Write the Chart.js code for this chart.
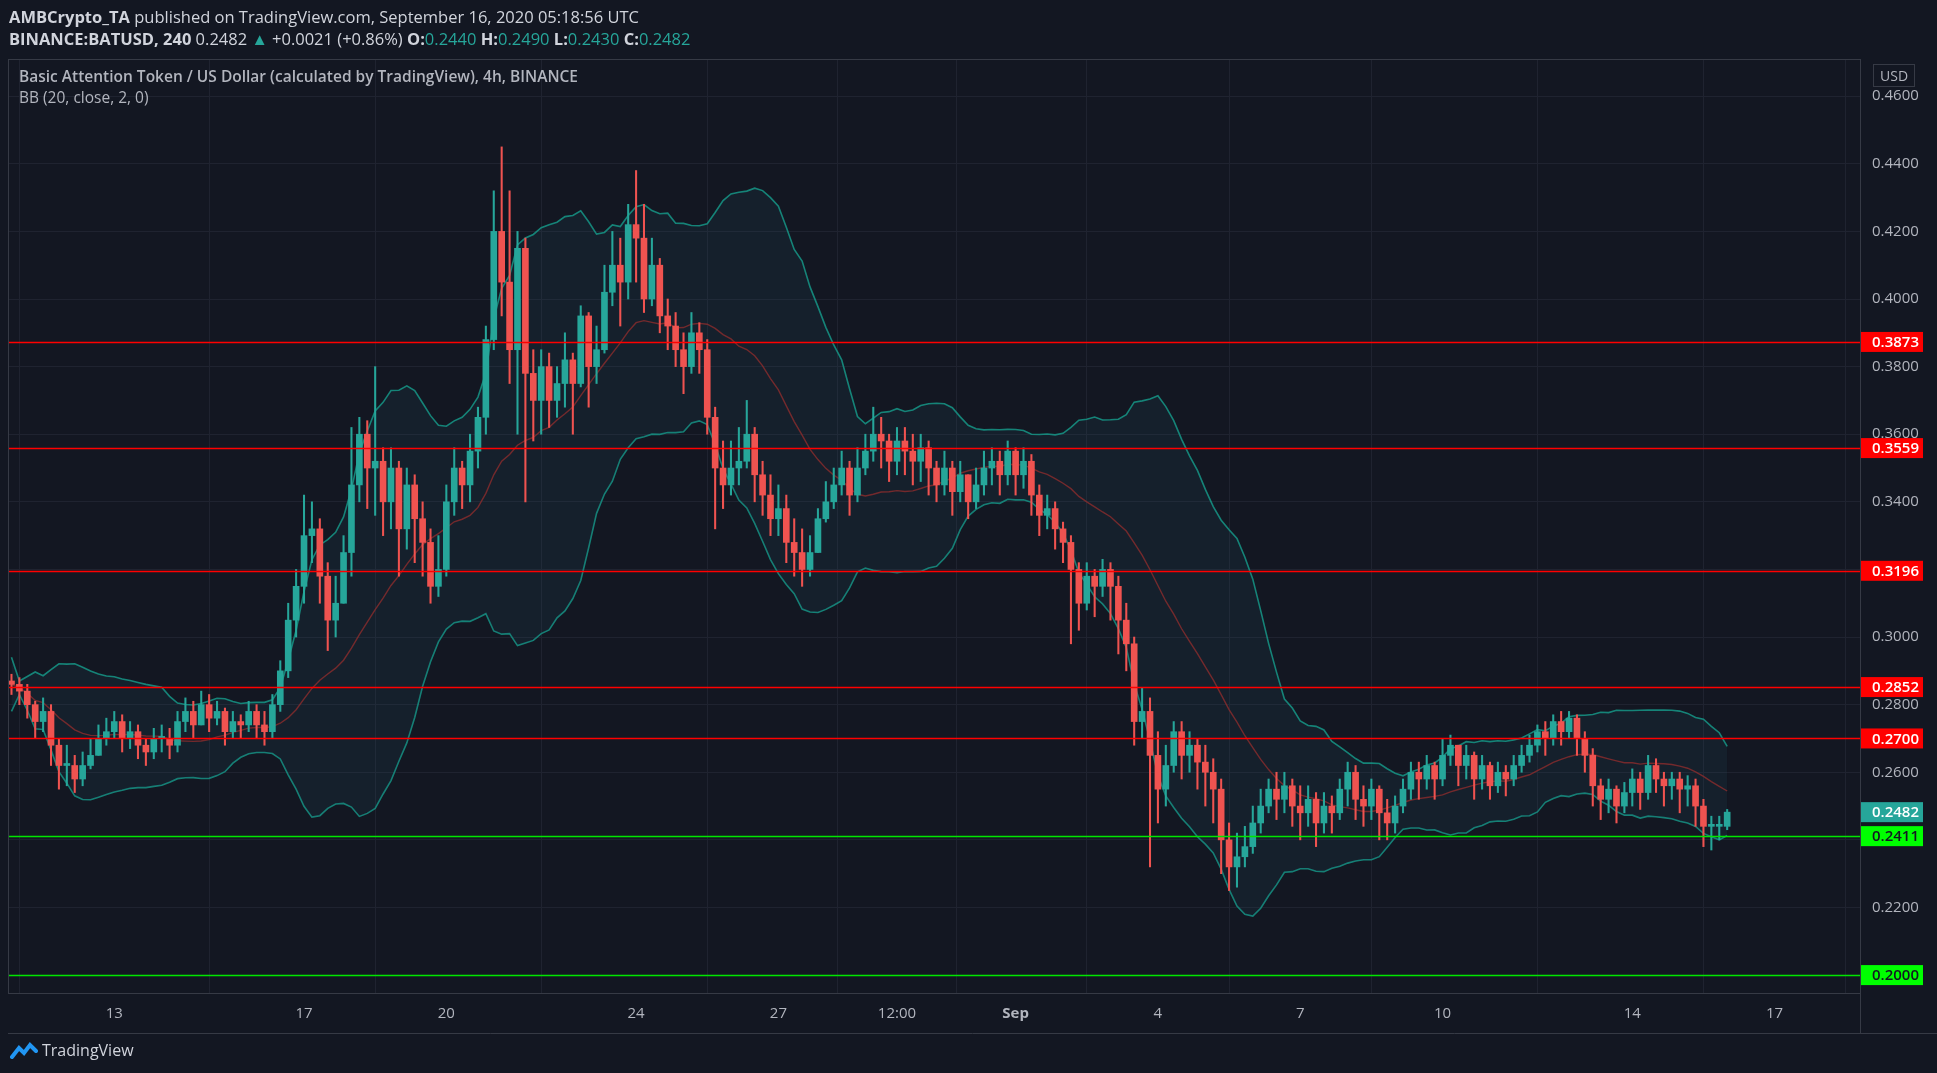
<!DOCTYPE html>
<html>
<head>
<meta charset="utf-8">
<script src="https://cdn.jsdelivr.net/npm/chart.js@4.4.0/dist/chart.umd.min.js"></script>
<style>
  html, body { margin: 0; padding: 0; background: #131722; overflow: hidden; }
  body { width: 1937px; height: 1073px; position: relative; font-family: "Open Sans", sans-serif; color: #d1d4dc; }
  #wrap { position: absolute; left: 0; top: 0; width: 1937px; height: 1073px; }
  .t { position: absolute; white-space: nowrap; }
  .up { color: #26a69a; }
  b { font-weight: 700; }
</style>
</head>
<body>
<div id="wrap"><canvas id="grafik" width="1937" height="1073"></canvas></div>
<div class="t" style="left:9px;top:5px;font-size:16.5px;"><b>AMBCrypto_TA</b> published on TradingView.com, September 16, 2020 05:18:56 UTC</div>
<div class="t" style="left:9px;top:27px;font-size:16.5px;"><b>BINANCE:BATUSD, 240</b> 0.2482 <span class="up">▲</span> +0.0021 (+0.86%) <b>O:</b><span class="up">0.2440</span> <b>H:</b><span class="up">0.2490</span> <b>L:</b><span class="up">0.2430</span> <b>C:</b><span class="up">0.2482</span></div>
<div class="t" style="left:19px;top:65px;font-size:15.5px;color:#b2b5be;font-weight:600;">Basic Attention Token / US Dollar (calculated by TradingView), 4h, BINANCE</div>
<div class="t" style="left:19px;top:86px;font-size:15.5px;color:#b2b5be;">BB (20, close, 2, 0)</div>
<div class="t" style="left:1873px;top:64px;font-size:14px;color:#b2b5be;border:1px solid #363a45;padding:1px 6px;">USD</div>
<div class="t" style="left:10px;top:1039px;font-size:16px;color:#d1d4dc;display:flex;align-items:center;">
  <svg width="28" height="20" viewBox="0 0 28 20"><path d="M2 17 L9 8 L14 13 L20 5 L26 11" stroke="#2196f3" stroke-width="4" fill="none" stroke-linecap="round"/></svg>
  <span style="margin-left:4px;">TradingView</span>
</div>
<script>
// 4 saatlik mumlar: 10 Ağu 20:00'dan 16 Eyl 00:00'a
const kapanis = [
  0.286,
  0.284,0.280,0.275,0.278,0.268,0.262,
  0.262,0.258,0.262,0.265,0.270,0.272,
  0.275,0.270,0.272,0.268,0.266,0.270,
  0.270,0.268,0.275,0.278,0.274,0.280,
  0.276,0.278,0.272,0.275,0.274,0.278,
  0.274,0.272,0.280,0.290,0.305,0.315,
  0.330,0.332,0.318,0.305,0.310,0.325,
  0.345,0.360,0.350,0.352,0.340,0.350,
  0.332,0.345,0.335,0.328,0.315,0.320,
  0.340,0.350,0.345,0.355,0.365,0.388,
  0.420,0.405,0.385,0.415,0.378,0.370,
  0.380,0.370,0.375,0.382,0.375,0.395,
  0.380,0.385,0.402,0.410,0.405,0.422,
  0.418,0.400,0.410,0.395,0.392,0.385,
  0.380,0.390,0.385,0.365,0.350,0.345,
  0.350,0.352,0.360,0.348,0.342,0.335,
  0.338,0.328,0.325,0.320,0.325,0.335,
  0.340,0.345,0.350,0.342,0.350,0.355,
  0.360,0.358,0.352,0.358,0.355,0.352,
  0.356,0.350,0.345,0.350,0.343,0.348,
  0.340,0.345,0.350,0.352,0.348,0.355,
  0.348,0.352,0.342,0.336,0.338,0.332,
  0.328,0.320,0.310,0.318,0.315,0.320,
  0.315,0.305,0.298,0.275,0.278,0.265,
  0.255,0.262,0.272,0.265,0.268,0.263,
  0.260,0.255,0.240,0.232,0.235,0.238,
  0.245,0.250,0.255,0.252,0.256,0.250,
  0.248,0.252,0.245,0.250,0.248,0.255,
  0.260,0.252,0.250,0.255,0.248,0.245,
  0.250,0.255,0.260,0.258,0.262,0.258,
  0.265,0.268,0.262,0.265,0.258,0.262,
  0.256,0.260,0.258,0.262,0.265,0.268,
  0.272,0.270,0.275,0.272,0.276,0.270,
  0.265,0.256,0.252,0.255,0.250,0.254,
  0.258,0.254,0.262,0.258,0.256,0.258,
  0.255,0.256,0.250,0.244,0.244,0.2440,
  0.2482
];
const yuksek = [
  0.289,
  0.288,0.286,0.281,0.282,0.280,0.270,
  0.268,0.265,0.266,0.270,0.274,0.276,
  0.278,0.277,0.275,0.274,0.270,0.273,
  0.274,0.273,0.278,0.282,0.281,0.284,
  0.283,0.281,0.279,0.278,0.277,0.281,
  0.280,0.278,0.283,0.293,0.310,0.320,
  0.342,0.340,0.335,0.322,0.318,0.330,
  0.362,0.365,0.364,0.380,0.356,0.356,
  0.352,0.350,0.348,0.340,0.332,0.330,
  0.345,0.356,0.352,0.360,0.368,0.392,
  0.432,0.445,0.432,0.420,0.418,0.385,
  0.385,0.384,0.380,0.390,0.384,0.398,
  0.396,0.392,0.410,0.420,0.418,0.428,
  0.438,0.428,0.418,0.412,0.400,0.396,
  0.390,0.396,0.393,0.388,0.368,0.358,
  0.358,0.362,0.370,0.362,0.352,0.348,
  0.345,0.342,0.335,0.332,0.330,0.338,
  0.346,0.350,0.355,0.352,0.356,0.360,
  0.368,0.365,0.360,0.362,0.362,0.360,
  0.360,0.358,0.352,0.355,0.352,0.352,
  0.348,0.350,0.355,0.356,0.355,0.358,
  0.356,0.356,0.354,0.345,0.342,0.340,
  0.334,0.330,0.322,0.322,0.320,0.323,
  0.322,0.318,0.310,0.300,0.285,0.282,
  0.272,0.268,0.275,0.275,0.272,0.270,
  0.268,0.264,0.258,0.245,0.242,0.244,
  0.250,0.255,0.258,0.260,0.260,0.258,
  0.256,0.256,0.254,0.254,0.253,0.258,
  0.263,0.262,0.256,0.258,0.256,0.252,
  0.253,0.258,0.263,0.263,0.265,0.263,
  0.270,0.271,0.268,0.268,0.266,0.265,
  0.263,0.263,0.262,0.265,0.268,0.271,
  0.274,0.275,0.277,0.278,0.278,0.277,
  0.272,0.267,0.258,0.258,0.256,0.257,
  0.261,0.260,0.265,0.264,0.260,0.260,
  0.260,0.259,0.258,0.252,0.247,0.247,
  0.249
];
const dusuk = [
  0.283,
  0.280,0.276,0.270,0.272,0.262,0.255,
  0.256,0.254,0.256,0.261,0.266,0.268,
  0.270,0.266,0.267,0.264,0.262,0.264,
  0.266,0.264,0.266,0.272,0.270,0.274,
  0.272,0.274,0.268,0.270,0.270,0.272,
  0.270,0.268,0.270,0.278,0.288,0.300,
  0.310,0.322,0.310,0.296,0.300,0.310,
  0.318,0.340,0.338,0.336,0.330,0.332,
  0.318,0.326,0.322,0.318,0.310,0.312,
  0.318,0.336,0.338,0.340,0.350,0.360,
  0.385,0.395,0.375,0.360,0.340,0.358,
  0.360,0.362,0.365,0.368,0.360,0.374,
  0.368,0.375,0.384,0.398,0.392,0.400,
  0.405,0.396,0.398,0.390,0.385,0.380,
  0.372,0.378,0.378,0.360,0.332,0.338,
  0.342,0.345,0.350,0.340,0.336,0.330,
  0.330,0.322,0.318,0.315,0.318,0.325,
  0.334,0.338,0.342,0.336,0.340,0.348,
  0.352,0.350,0.346,0.348,0.348,0.345,
  0.346,0.342,0.340,0.342,0.336,0.340,
  0.335,0.338,0.342,0.345,0.342,0.345,
  0.342,0.344,0.336,0.330,0.332,0.326,
  0.322,0.298,0.302,0.308,0.306,0.312,
  0.305,0.295,0.290,0.268,0.270,0.232,
  0.245,0.250,0.260,0.258,0.260,0.255,
  0.250,0.245,0.230,0.225,0.226,0.232,
  0.236,0.242,0.248,0.246,0.248,0.244,
  0.240,0.244,0.238,0.242,0.242,0.246,
  0.250,0.246,0.244,0.246,0.240,0.240,
  0.242,0.248,0.252,0.252,0.255,0.252,
  0.256,0.262,0.256,0.258,0.252,0.255,
  0.252,0.254,0.253,0.256,0.260,0.263,
  0.266,0.265,0.268,0.268,0.270,0.265,
  0.260,0.250,0.246,0.248,0.245,0.248,
  0.250,0.249,0.252,0.254,0.250,0.252,
  0.248,0.250,0.244,0.238,0.237,0.240,
  0.243
];
const ilkAcilis = 0.287;

// Yatay destek / direnç seviyeleri
const kirmiziSeviyeler = [0.3873, 0.3559, 0.3196, 0.2852, 0.2700];
const yesilSeviyeler = [0.2411, 0.2000];
const sonFiyat = 0.2482;

// Eksen etiketleri (gün: 1 Ağu = 0)
const xTikGunleri = [12, 16, 19, 23, 26, 28.5, 31, 34, 37, 40, 44, 47];
const xTikEtiketleri = ["13", "17", "20", "24", "27", "12:00", "Sep", "4", "7", "10", "14", "17"];
const yTikleri = [0.20, 0.22, 0.24, 0.26, 0.28, 0.30, 0.32, 0.34, 0.36, 0.38, 0.40, 0.42, 0.44, 0.46];

const ilkGun = 9 + 20 / 24;
const UP = "#26a69a", DOWN = "#ef5350";

const mumlar = kapanis.map((c, i) => {
  const o = i === 0 ? ilkAcilis : kapanis[i - 1];
  return {
    x: ilkGun + i / 6, o, c,
    h: Math.max(yuksek[i], o, c), l: Math.min(dusuk[i], o, c)
  };
});

// Bollinger (20, 2)
const bbOrta = [], bbUst = [], bbAlt = [];
kapanis.forEach((_, i) => {
  const pencere = kapanis.slice(Math.max(0, i - 19), i + 1);
  const ort = pencere.reduce((a, b) => a + b, 0) / pencere.length;
  const sd = Math.sqrt(pencere.reduce((a, b) => a + (b - ort) ** 2, 0) / pencere.length) || 0.004;
  const x = mumlar[i].x;
  bbOrta.push({ x, y: ort });
  bbUst.push({ x, y: ort + 2 * sd });
  bbAlt.push({ x, y: ort - 2 * sd });
});

const seviyeEklentisi = {
  id: "seviyeler",
  afterDatasetsDraw(chart) {
    const { ctx, chartArea, scales } = chart;
    const y = scales.y;
    const cizgi = (v, renk) => {
      const py = Math.round(y.getPixelForValue(v)) + 0.5;
      ctx.save();
      ctx.strokeStyle = renk; ctx.lineWidth = 1.3;
      ctx.beginPath(); ctx.moveTo(chartArea.left, py); ctx.lineTo(chartArea.right, py); ctx.stroke();
      ctx.restore();
    };
    kirmiziSeviyeler.forEach(v => cizgi(v, "#ff0000"));
    yesilSeviyeler.forEach(v => cizgi(v, "#00e600"));
  },
  afterDraw(chart) {
    const { ctx, chartArea, scales } = chart;
    const y = scales.y;
    const etiket = (v, zemin, yazi) => {
      const py = y.getPixelForValue(v);
      ctx.save();
      ctx.fillStyle = zemin;
      ctx.fillRect(chartArea.right + 1, py - 10, 62, 20);
      ctx.fillStyle = yazi;
      ctx.font = "600 15px 'Open Sans'";
      ctx.textBaseline = "middle";
      ctx.fillText(v.toFixed(4), chartArea.right + 12, py + 1);
      ctx.restore();
    };
    kirmiziSeviyeler.forEach(v => etiket(v, "#ff0000", "#ffffff"));
    etiket(sonFiyat, UP, "#ffffff");
    etiket(yesilSeviyeler[0], "#00ff00", "#131722");
    etiket(yesilSeviyeler[1], "#00ff00", "#131722");
    // çerçeve
    ctx.save();
    ctx.strokeStyle = "#363a45"; ctx.lineWidth = 1;
    ctx.strokeRect(chartArea.left + 0.5, chartArea.top + 0.5, chartArea.right - chartArea.left, chartArea.bottom - chartArea.top);
    ctx.beginPath(); ctx.moveTo(chartArea.right + 0.5, chartArea.bottom); ctx.lineTo(chartArea.right + 0.5, chartArea.bottom + 40);
    ctx.moveTo(chartArea.left, chartArea.bottom + 40.5); ctx.lineTo(1937, chartArea.bottom + 40.5); ctx.stroke();
    ctx.restore();
  }
};

const ctx = document.getElementById("grafik").getContext("2d");
new Chart(ctx, {
  type: "bar",
  data: {
    datasets: [
      { type: "line", data: bbUst, borderColor: "rgba(22,150,135,0.85)", borderWidth: 1.6, pointRadius: 0, fill: "+1", backgroundColor: "rgba(40,80,100,0.16)", order: 5 },
      { type: "line", data: bbAlt, borderColor: "rgba(22,150,135,0.85)", borderWidth: 1.6, pointRadius: 0, fill: false, order: 5 },
      { type: "line", data: bbOrta, borderColor: "rgba(140,45,45,0.8)", borderWidth: 1.4, pointRadius: 0, fill: false, order: 4 },
      {
        data: mumlar.map(m => ({ x: m.x, y: [m.l, m.h] })),
        backgroundColor: mumlar.map(m => m.c >= m.o ? UP : DOWN),
        barThickness: 1.4, grouped: false, order: 2
      },
      {
        data: mumlar.map(m => ({ x: m.x, y: [Math.min(m.o, m.c), Math.max(m.o, m.c) + (Math.abs(m.o - m.c) < 0.0006 ? 0.0006 : 0)] })),
        backgroundColor: mumlar.map(m => m.c >= m.o ? UP : DOWN),
        barThickness: 6, grouped: false, order: 1
      }
    ]
  },
  options: {
    responsive: false,
    animation: false,
    layout: { padding: { top: 59, left: 8, right: 0, bottom: 38 } },
    plugins: { legend: { display: false }, tooltip: { enabled: false } },
    scales: {
      x: {
        type: "linear", min: 9.76, max: 48.8, offset: false,
        grid: { color: "#1f2330", drawTicks: false },
        border: { display: false },
        afterBuildTicks: s => { s.ticks = xTikGunleri.map(v => ({ value: v })); },
        ticks: {
          color: "#b2b5be", font: { family: "Open Sans", size: 15, weight: (c) => c.tick && c.tick.value === 31 ? "bold" : "normal" },
          padding: 12, maxRotation: 0, autoSkip: false,
          callback: (v) => xTikEtiketleri[xTikGunleri.indexOf(v)] || ""
        }
      },
      y: {
        position: "right", min: 0.1947, max: 0.471,
        grid: { color: "#1f2330", drawTicks: false },
        border: { display: false },
        afterBuildTicks: s => { s.ticks = yTikleri.map(v => ({ value: v })); },
        afterFit: s => { s.width = 77; },
        ticks: { color: "#b2b5be", font: { family: "Open Sans", size: 15 }, padding: 12, callback: v => v.toFixed(4) }
      }
    }
  },
  plugins: [seviyeEklentisi]
});
</script>
</body>
</html>
